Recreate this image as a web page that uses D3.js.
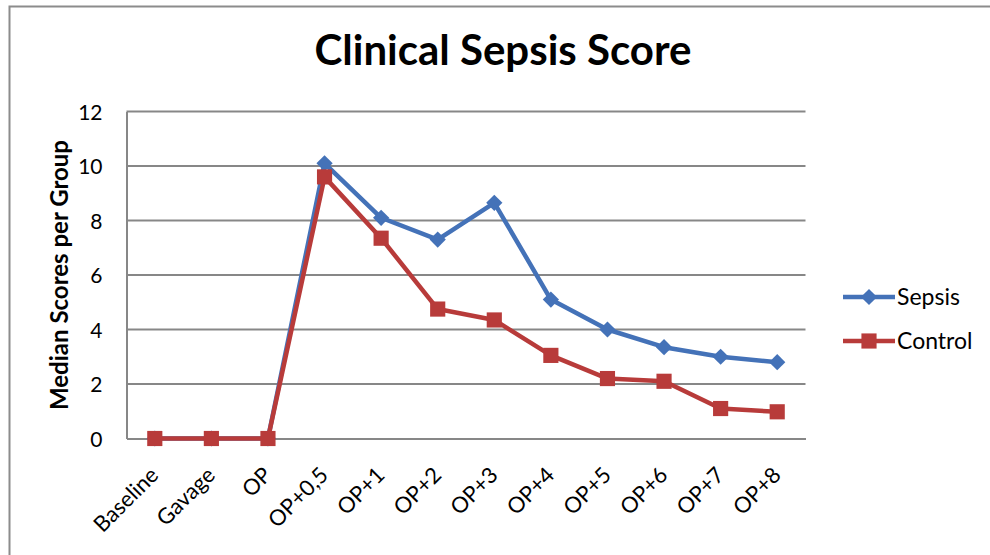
<!DOCTYPE html>
<html><head><meta charset="utf-8">
<script src="https://cdn.jsdelivr.net/npm/d3@7/dist/d3.min.js"></script>
<style>html,body{margin:0;padding:0;background:#fff;}svg{display:block;}</style>
</head><body>
<svg id="chart" width="990" height="555"></svg>
<script>
const categories = ["Baseline","Gavage","OP","OP+0,5","OP+1","OP+2","OP+3","OP+4","OP+5","OP+6","OP+7","OP+8"];
const sepsis  = [0, 0, 0, 10.1, 8.1, 7.3, 8.65, 5.1, 4.0, 3.35, 3.0, 2.8];
const control = [0, 0, 0, 9.6, 7.35, 4.75, 4.35, 3.05, 2.2, 2.1, 1.1, 0.98];
const yTicks = [0, 2, 4, 6, 8, 10, 12];
const seriesNames = ["Sepsis", "Control"];
const seriesColors = ["#4472B8", "#B83B3A"];

(function () {
const FONT = "Lato, 'Open Sans', sans-serif";
const svg = d3.select("#chart");

// outer frame
svg.append("rect").attr("x", 9.5).attr("y", 6.5).attr("width", 1000).attr("height", 600)
  .attr("fill", "none").attr("stroke", "#8c8c8c").attr("stroke-width", 2);

const pLeft = 126.5, pRight = 805.5, pTop = 111.5, pBottom = 438.5;

const x = d3.scaleBand().domain(categories).range([pLeft, pRight]).paddingInner(0).paddingOuter(0);
const y = d3.scaleLinear().domain([0, 12]).range([pBottom, pTop]);

// gridlines
svg.append("g").selectAll("line").data(yTicks.filter(t => t > 0)).join("line")
  .attr("x1", pLeft).attr("x2", pRight)
  .attr("y1", d => y(d)).attr("y2", d => y(d))
  .attr("stroke", "#878787").attr("stroke-width", 2);

// y axis
const yAxis = d3.axisLeft(y).tickValues(yTicks).tickSize(0).tickPadding(24);
const gy = svg.append("g").attr("transform", `translate(${pLeft},0)`).call(yAxis);
gy.select(".domain").attr("stroke", "#878787").attr("stroke-width", 2);
gy.selectAll("text").attr("font-family", FONT).attr("font-size", 21).attr("fill", "#000").attr("dy", "0.36em");

// x axis
const xAxis = d3.axisBottom(x).tickSize(0).tickPadding(0);
const gx = svg.append("g").attr("transform", `translate(0,${pBottom})`).call(xAxis);
gx.select(".domain").attr("stroke", "#878787").attr("stroke-width", 2);
gx.selectAll("text").attr("font-family", FONT).attr("font-size", 22).attr("fill", "#000")
  .attr("text-anchor", "end").attr("dy", "0").attr("y", 0).attr("x", 0)
  .attr("transform", "translate(5,38) rotate(-45)");

// title
svg.append("text").attr("x", 503).attr("y", 65).attr("text-anchor", "middle")
  .attr("font-family", FONT).attr("font-weight", "bold").attr("font-size", 42)
  .text("Clinical Sepsis Score");

// y title
svg.append("text").attr("transform", "translate(68,275) rotate(-90)").attr("text-anchor", "middle")
  .attr("font-family", FONT).attr("font-weight", "bold").attr("font-size", 24)
  .text("Median Scores per Group");

const cx = d => x(d) + x.bandwidth() / 2;
const line = d3.line().x(d => cx(d.c)).y(d => y(d.v));
const allSeries = [sepsis, control];
const diamondPath = d3.symbol().type(d3.symbolSquare).size(132)();
const squarePath = d3.symbol().type(d3.symbolSquare).size(230)();
const markerPath = i => i === 0 ? diamondPath : squarePath;
const markerRot = i => i === 0 ? " rotate(45)" : "";

allSeries.forEach((vals, i) => {
  const pts = categories.map((c, j) => ({c, v: vals[j]}));
  svg.append("path").datum(pts).attr("d", line).attr("fill", "none")
    .attr("stroke", seriesColors[i]).attr("stroke-width", 4.5).attr("stroke-linejoin", "round");
  svg.append("g").selectAll("path").data(pts).join("path")
    .attr("d", markerPath(i))
    .attr("transform", d => `translate(${cx(d.c)},${y(d.v)})${markerRot(i)}`)
    .attr("fill", seriesColors[i]);
});

// legend
const legY = [297, 341];
seriesNames.forEach((n, i) => {
  const g = svg.append("g");
  g.append("line").attr("x1", 843).attr("x2", 895).attr("y1", legY[i]).attr("y2", legY[i])
    .attr("stroke", seriesColors[i]).attr("stroke-width", 4.5);
  g.append("path").attr("d", markerPath(i))
    .attr("transform", `translate(869,${legY[i]})${markerRot(i)}`).attr("fill", seriesColors[i]);
  g.append("text").attr("x", 897).attr("y", legY[i] + 8).attr("font-family", FONT)
    .attr("font-size", 23).text(n);
});
})();
</script>
</body></html>
